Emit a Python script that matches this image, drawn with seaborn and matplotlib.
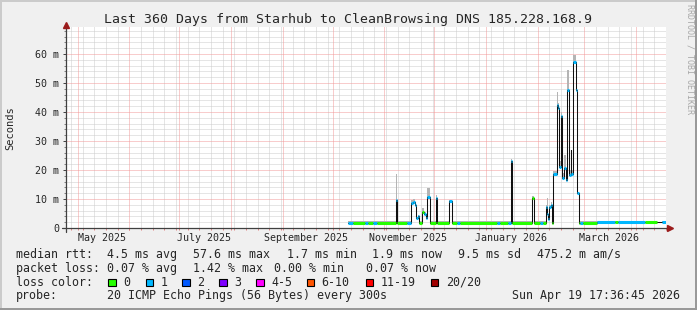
import numpy as np
import pandas as pd
import matplotlib
matplotlib.use("Agg")
import matplotlib.pyplot as plt
from matplotlib.patches import Rectangle
from matplotlib.lines import Line2D
import seaborn as sns

# ---------------- data ----------------
times = [
    "2025-10-11 02:00", "2025-10-13 22:00", "2025-10-21 03:00", "2025-10-22 22:00",
    "2025-10-25 22:00", "2025-10-28 08:00", "2025-11-08 17:30", "2025-11-09 08:00",
    "2025-11-15 08:00", "2025-11-17 13:00", "2025-11-18 18:00", "2025-11-20 02:30",
    "2025-11-20 21:30", "2025-11-21 21:50", "2025-11-22 19:00", "2025-11-24 12:00",
    "2025-11-25 12:00", "2025-11-26 17:00", "2025-11-27 12:00", "2025-11-29 02:00",
    "2025-12-02 13:00", "2025-12-03 07:00", "2025-12-10 12:00", "2025-12-12 07:00",
    "2025-12-15 08:00", "2025-12-17 03:00", "2026-01-08 08:00", "2026-01-10 03:00",
    "2026-01-14 22:00", "2026-01-16 13:00", "2026-01-17 07:00", "2026-01-29 03:30",
    "2026-01-30 19:00", "2026-02-03 03:00", "2026-02-04 22:00", "2026-02-06 13:00",
    "2026-02-07 03:30", "2026-02-08 02:40", "2026-02-08 17:00", "2026-02-09 13:00",
    "2026-02-10 03:30", "2026-02-10 12:15", "2026-02-11 02:40", "2026-02-13 03:30",
    "2026-02-13 22:20", "2026-02-14 17:00", "2026-02-15 13:00", "2026-02-16 08:00",
    "2026-02-17 12:45", "2026-02-18 17:30", "2026-02-19 12:15", "2026-02-20 17:00",
    "2026-02-21 13:00", "2026-02-21 22:00", "2026-02-23 02:40", "2026-02-24 12:00",
    "2026-02-25 12:15", "2026-02-26 17:00", "2026-02-27 03:00", "2026-02-28 22:20",
    "2026-03-09 08:00", "2026-03-20 03:00", "2026-03-21 22:00", "2026-04-07 03:00",
    "2026-04-14 08:00", "2026-04-17 08:00", "2026-04-19 17:36",
]
median_ms = [
    1.8, 1.8, 1.8, 1.8,
    1.8, 1.8, 9.7, 1.8,
    1.8, 8.5, 8.8, 7.9,
    3.3, 4.1, 1.8, 5.6,
    4.8, 3.3, 10.8, 1.8,
    10.2, 1.8, 9.4, 1.8,
    1.8, 1.8, 1.8, 1.8,
    1.8, 23.2, 1.8, 10.2,
    1.8, 1.8, 1.8, 7.1,
    4.8, 3.1, 7.4, 8.0,
    5.4, 1.8, 18.6, 42.4,
    41.4, 21.1, 38.5, 17.1,
    20.6, 16.6, 47.6, 18.3,
    26.9, 18.6, 57.4, 47.6,
    12.0, 1.8, 1.8, 1.8,
    1.9, 1.9, 1.9, 1.9,
    np.nan, 1.9, 1.9,
]
smoke_top_ms = [
    2.4, 2.4, 2.4, 2.4,
    2.4, 2.4, 18.6, 2.4,
    2.4, 9.7, 9.9, 8.5,
    3.8, 4.5, 2.4, 7.0,
    5.5, 4.0, 13.7, 2.4,
    11.4, 2.4, 9.8, 2.4,
    2.4, 2.4, 2.4, 2.4,
    2.4, 23.7, 2.4, 11.0,
    2.4, 2.4, 2.4, 8.0,
    10.3, 4.0, 8.0, 9.0,
    6.0, 2.4, 19.5, 47.0,
    43.0, 23.0, 40.0, 19.0,
    25.0, 18.0, 54.5, 20.0,
    28.0, 20.0, 59.7, 49.0,
    12.5, 2.4, 2.4, 2.4,
    2.5, 2.5, 2.5, 2.5,
    np.nan, 2.5, 2.5,
]
loss_level = [
    1, 0, 1, 0,
    1, 0, 1, 0,
    1, 1, 1, 1,
    1, 1, 0, 0,
    1, 1, 1, 0,
    1, 0, 1, 0,
    1, 0, 1, 0,
    1, 1, 0, 0,
    0, 1, 0, 1,
    1, 1, 1, 1,
    1, 0, 1, 1,
    1, 1, 1, 1,
    1, 1, 1, 1,
    1, 1, 1, 1,
    1, 0, 1, 0,
    1, 0, 1, 0,
    0, 1, 1,
]

loss_labels = ["0", "1", "2", "3", "4-5", "6-10", "11-19", "20/20"]
loss_colors = ["#26ff00", "#00b8ff", "#0059ff", "#7e00ff",
               "#ff00ff", "#ff5500", "#ff0000", "#a10000"]

y_ticks_ms = [0, 10, 20, 30, 40, 50, 60]
y_tick_labels = ["0", "10 m", "20 m", "30 m", "40 m", "50 m", "60 m"]
x_label_months = ["2025-05-01", "2025-07-01", "2025-09-01",
                  "2025-11-01", "2026-01-01", "2026-03-01"]
x_label_text = ["May 2025", "July 2025", "September 2025",
                "November 2025", "January 2026", "March 2026"]

t_start = "2025-04-24 17:36:45"
t_end = "2026-04-19 17:36:45"
y_max_ms = 69.3

title = "Last 360 Days from Starhub to CleanBrowsing DNS 185.228.168.9"
row_rtt = ["median rtt:", "4.5 ms avg", "57.6 ms max", "1.7 ms min",
           "1.9 ms now", "9.5 ms sd", "475.2 m am/s"]
row_loss = ["packet loss:", "0.07 % avg", "1.42 % max", "0.00 % min", "0.07 % now"]
probe_text = ["probe:", "20 ICMP Echo Pings (56 Bytes) every 300s"]
stamp = "Sun Apr 19 17:36:45 2026"

# ---------------- style ----------------
sns.set_style("white")
plt.rcParams["font.family"] = ["DejaVu Sans Mono"]
W, H = 697, 310
fig = plt.figure(figsize=(W / 100, H / 100), dpi=100, facecolor="#f0f0f0")


def fx(px):
    return px / W


def fy(py):
    return 1 - py / H


# 3D border
fig.add_artist(Rectangle((0, 0), fx(2), 1, transform=fig.transFigure, color="#cbcbcb", lw=0))
fig.add_artist(Rectangle((0, fy(2)), 1, 2 / H, transform=fig.transFigure, color="#cbcbcb", lw=0))
fig.add_artist(Rectangle((fx(695), 0), 2 / W, 1, transform=fig.transFigure, color="#999999", lw=0))
fig.add_artist(Rectangle((0, 0), 1, 2 / H, transform=fig.transFigure, color="#999999", lw=0))

ax = fig.add_axes([fx(66), fy(228), 600 / W, 201 / H])
ax.set_facecolor("white")

ts = pd.Timestamp(t_start)
te = pd.Timestamp(t_end)
ax.set_xlim(ts, te)
ax.set_ylim(0, y_max_ms)

# grid: 1px dotted lines snapped to pixels
minor_y = np.arange(2, y_max_ms, 2)
major_y = np.arange(10, y_max_ms, 10)
weeks = pd.date_range(ts, te, freq="W-SUN")
months = pd.date_range(ts, te, freq="MS")
gkw = dict(lw=0.72, linestyle=(0, (1, 1)), snap=True, dash_capstyle="butt")
for v in minor_y:
    if v % 10 != 0:
        ax.axhline(v, color="#cccccc", zorder=1, **gkw)
for w in weeks:
    if w.day != 1:
        ax.axvline(w, color="#cccccc", zorder=1, **gkw)
for v in major_y:
    ax.axhline(v, color="#f29a9a", zorder=2, **gkw)
for mth in months:
    ax.axvline(mth, color="#f29a9a", zorder=2, **gkw)

# data
df = pd.DataFrame({
    "time": pd.to_datetime(times),
    "median": median_ms,
    "top": smoke_top_ms,
    "loss": loss_level,
})
ax.fill_between(df["time"], df["median"], df["top"], step="post",
                color="#b4b4b4", lw=0, zorder=3)
sns.lineplot(data=df, x="time", y="median", ax=ax, estimator=None, sort=False,
             drawstyle="steps-post", color="#101010", lw=0.75, zorder=4)
for i in range(len(df) - 1):
    m = df["median"].iloc[i]
    if np.isnan(m):
        continue
    ax.hlines(m, df["time"].iloc[i], df["time"].iloc[i + 1],
              colors=loss_colors[df["loss"].iloc[i]], lw=2.2, zorder=5,
              capstyle="butt")

# axes / ticks
for s in ax.spines.values():
    s.set_visible(False)
ax.set_xlabel("")
ax.set_ylabel("")
ax.set_yticks(y_ticks_ms, y_tick_labels)
ax.set_yticks(minor_y, minor=True)
ax.tick_params(axis="y", which="major", labelsize=7.2, length=2.5, width=0.7,
               color="#404040", pad=2.5, left=True)
ax.tick_params(axis="y", which="minor", length=1.5, width=0.7, color="#808080", left=True)

mids = []
for m in x_label_months:
    a = pd.Timestamp(m)
    b = a + pd.offsets.MonthBegin(1)
    mids.append(a + (b - a) / 2)
ax.set_xticks(mids, x_label_text)
ax.set_xticks(list(weeks) + list(months), minor=True)
ax.tick_params(axis="x", which="major", labelsize=7.2, length=0, pad=3.5)
ax.tick_params(axis="x", which="minor", length=1.5, width=0.7, color="#e08080", bottom=True)

# axis lines with arrows
fig.add_artist(Line2D([fx(66), fx(66)], [fy(232), fy(27)], transform=fig.transFigure,
                      color="#404040", lw=0.9))
fig.add_artist(Line2D([fx(62), fx(668)], [fy(228), fy(228)], transform=fig.transFigure,
                      color="#404040", lw=0.9))
fig.add_artist(Line2D([fx(66)], [fy(24.5)], transform=fig.transFigure, marker="^",
                      ms=5, color="#9b1c1c", lw=0))
fig.add_artist(Line2D([fx(669.5)], [fy(228)], transform=fig.transFigure, marker=">",
                      ms=5, color="#9b1c1c", lw=0))

# texts
fig.text(fx(347.5), fy(19), title, ha="center", va="center", fontsize=9.5)
fig.text(fx(10), fy(128), "Seconds", rotation=90, ha="center", va="center", fontsize=7.5)
fig.text(fx(690), fy(4), "RRDTOOL / TOBI OETIKER", rotation=270, ha="center",
         va="top", fontsize=6, color="#a8a8a8")

fs = 8.4
for txt, x in zip(row_rtt, [16, 107.3, 193.3, 286.7, 372.3, 458.3, 537.3]):
    fig.text(fx(x), fy(254.3), txt, ha="left", va="center", fontsize=fs)
for txt, x in zip(row_loss, [16, 107.3, 193.3, 274, 365.7]):
    fig.text(fx(x), fy(268.3), txt, ha="left", va="center", fontsize=fs)
fig.text(fx(16), fy(282.3), "loss color:", ha="left", va="center", fontsize=fs)
box_x = [108.3, 145.7, 182.3, 219.3, 256, 306.7, 365.7, 430.7]
for lab, col, bx in zip(loss_labels, loss_colors, box_x):
    fig.add_artist(Rectangle((fx(bx), fy(286.3)), 7.7 / W, 7.7 / H,
                             transform=fig.transFigure, facecolor=col,
                             edgecolor="black", lw=0.8))
    fig.text(fx(bx + 15), fy(282.3), lab, ha="left", va="center", fontsize=fs)
fig.text(fx(16), fy(296), probe_text[0], ha="left", va="center", fontsize=fs)
fig.text(fx(107.3), fy(296), probe_text[1], ha="left", va="center", fontsize=fs)
fig.text(fx(680), fy(296), stamp, ha="right", va="center", fontsize=fs)

fig.savefig("out.png", dpi=100, facecolor=fig.get_facecolor())
